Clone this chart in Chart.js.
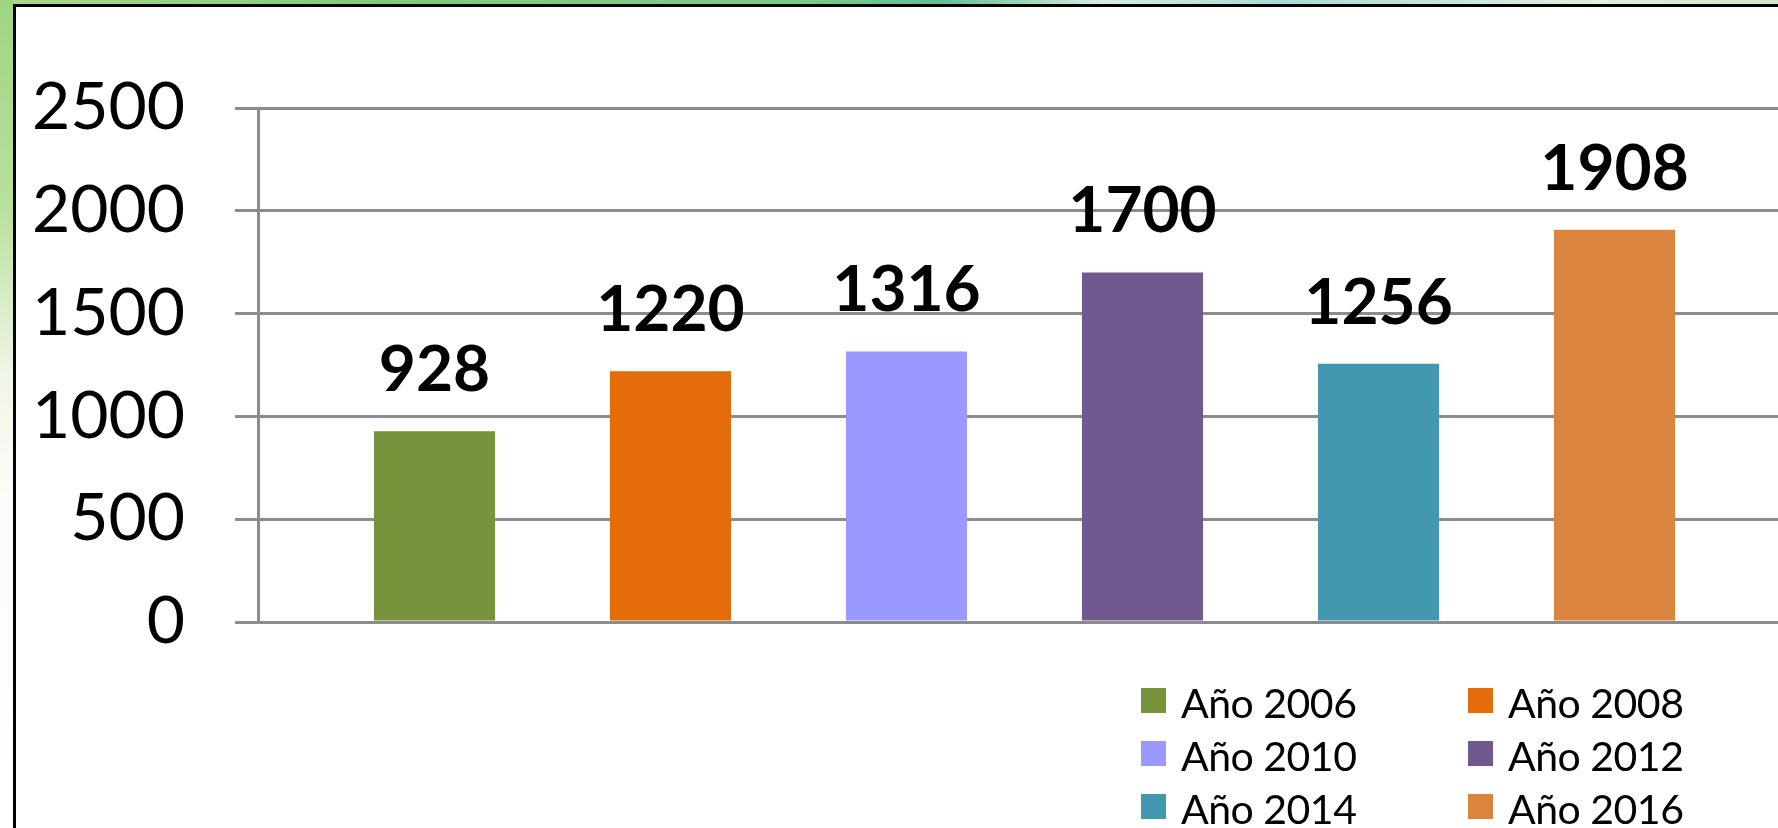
<!DOCTYPE html>
<html>
<head>
<meta charset="utf-8">
<script src="https://cdn.jsdelivr.net/npm/chart.js@4.4.1/dist/chart.umd.min.js"></script>
<style>
  html, body { margin: 0; padding: 0; width: 1778px; height: 828px; overflow: hidden; }
  body {
    background: linear-gradient(90deg, #a9d98c 0%, #84cc7c 20%, #7ccb88 45%, #63bf98 53%, #d6eedc 62%, #a6dcd6 72%, #e2f0dc 90%, #cfe8c8 100%);
  }
  #leftglow {
    position: absolute; left: 0; top: 0; width: 13px; height: 828px;
    background: linear-gradient(180deg, #9ed584 0%, #b8e09c 25%, #eef6e6 45%, #fbfdf8 60%, #ffffff 100%);
  }
  #frame {
    position: absolute; left: 13px; top: 4px; width: 1900px; height: 900px;
    background: #fff; border-left: 3px solid #000; border-top: 3px solid #000;
  }
  #wrap { position: absolute; left: 0; top: 0; width: 1820px; height: 828px; }
  #legend {
    position: absolute; left: 1141px; top: 688px;
    display: grid; grid-template-columns: 327px 327px; grid-auto-rows: 53px;
    font-family: Lato, sans-serif; font-size: 41px; color: #000;
  }
  .item { display: flex; align-items: flex-start; white-space: nowrap; }
  .box { width: 25px; height: 25px; margin-right: 15px; flex: none; }
  .txt { line-height: 25px; margin-top: 2px; letter-spacing: -0.5px; }
</style>
</head>
<body>
<div id="leftglow"></div>
<div id="frame"></div>
<div id="wrap"><canvas id="barChart"></canvas></div>
<div id="legend"></div>
<script>
// one category, one series per year (as in the original Excel chart)
var seriesNames = ['Año 2006', 'Año 2008', 'Año 2010', 'Año 2012', 'Año 2014', 'Año 2016'];
var seriesValues = [928, 1220, 1316, 1700, 1256, 1908];
var seriesColors = ['#77933c', '#e46c0a', '#9999ff', '#71588f', '#4198af', '#db843d'];
var yTicks = [0, 500, 1000, 1500, 2000, 2500];

var gridGray = '#8c8c8c';

var datasets = seriesNames.map(function (name, i) {
    return {
        label: name,
        data: [seriesValues[i]],
        backgroundColor: seriesColors[i],
        borderWidth: 0,
        barPercentage: 0.513,
        categoryPercentage: 0.9237
    };
});

// value labels above each bar
var valueLabels = {
    id: 'valueLabels',
    afterDatasetsDraw: function (chart) {
        var ctx = chart.ctx;
        ctx.save();
        ctx.font = 'bold 64px Lato';
        ctx.fillStyle = '#000';
        ctx.textAlign = 'center';
        ctx.textBaseline = 'alphabetic';
        chart.data.datasets.forEach(function (ds, i) {
            chart.getDatasetMeta(i).data.forEach(function (bar, j) {
                ctx.fillText(String(ds.data[j]), bar.x, bar.y - 40);
            });
        });
        ctx.restore();
    }
};

var barCtx = document.getElementById('barChart').getContext('2d');
var barChart = new Chart(barCtx, {
    type: 'bar',
    data: {
        labels: [''],
        datasets: datasets
    },
    options: {
        responsive: true,
        maintainAspectRatio: false,
        animation: false,
        layout: {
            padding: { left: 0, top: 108, right: 29, bottom: 206 }
        },
        plugins: {
            legend: { display: false },
            tooltip: { enabled: false }
        },
        scales: {
            x: { display: false },
            y: {
                min: yTicks[0],
                max: yTicks[yTicks.length - 1],
                afterBuildTicks: function (scale) {
                    scale.ticks = yTicks.map(function (v) { return { value: v }; });
                },
                afterFit: function (scale) { scale.width = 258; },
                grid: { color: gridGray, lineWidth: 3, tickLength: 23, drawTicks: true },
                border: { display: true, color: gridGray, width: 3 },
                ticks: {
                    padding: 50,
                    color: '#000',
                    font: { family: 'Lato', size: 66 },
                    callback: function (value) { return String(value); }
                }
            }
        }
    },
    plugins: [valueLabels]
});

// legend, two columns like the original
var legend = document.getElementById('legend');
seriesNames.forEach(function (name, i) {
    var item = document.createElement('div');
    item.className = 'item';
    var box = document.createElement('span');
    box.className = 'box';
    box.style.background = seriesColors[i];
    var txt = document.createElement('span');
    txt.className = 'txt';
    txt.textContent = name;
    item.appendChild(box);
    item.appendChild(txt);
    legend.appendChild(item);
});
</script>
</body>
</html>
